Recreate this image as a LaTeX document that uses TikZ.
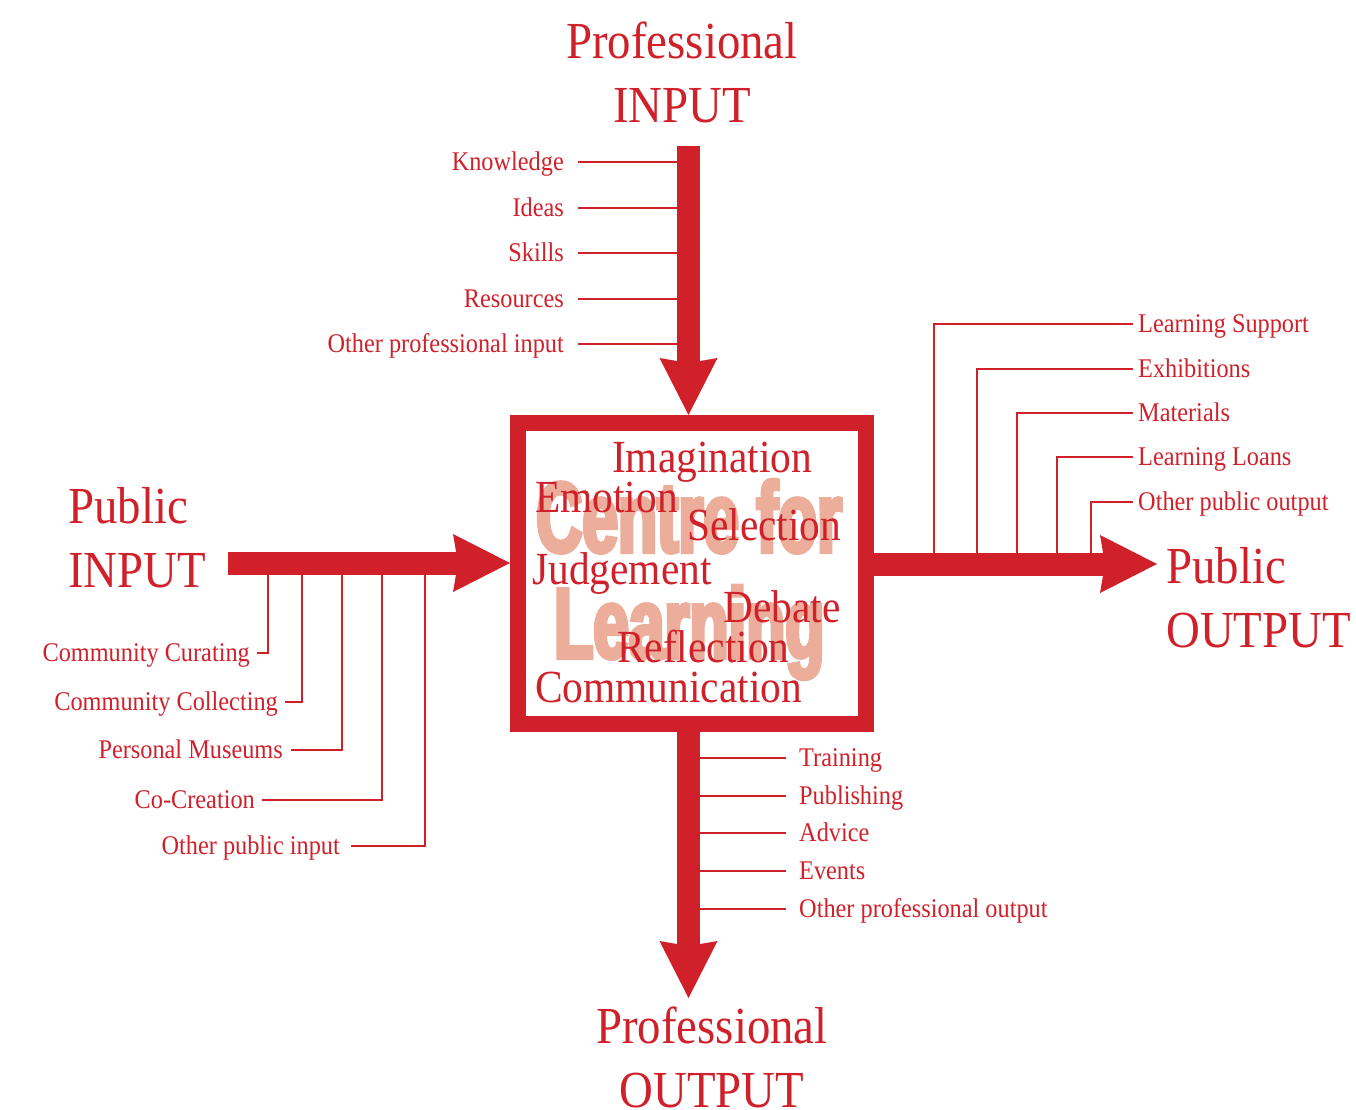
\documentclass[tikz,border=0pt]{standalone}
\usepackage{fontspec}
\setmainfont[FakeStretch=0.9]{Liberation Serif}
\newfontfamily\bannerfont[FakeStretch=0.64,FakeBold=4]{Liberation Sans Bold}
\usepackage{tikz}
\usetikzlibrary{arrows.meta,positioning}
\definecolor{cfred}{RGB}{208,32,42}
\definecolor{cfpink}{RGB}{236,174,154}

\begin{document}
\begin{tikzpicture}[x=1pt,y=-1pt,inner sep=0pt,
    bigarrow/.style={draw=cfred,line width=23pt,-{Stealth[length=57pt,width=58pt,inset=5pt,line width=0pt]}},
    branch/.style={draw=cfred,line width=2.6pt},
    heading/.style={text=cfred,font=\fontsize{52}{64}\selectfont},
    word/.style={text=cfred,font=\fontsize{46}{46}\selectfont,anchor=base west},
    item/.style={text=cfred,font=\fontsize{27}{27}\selectfont,text height=21pt,text depth=5pt},
    banner/.style={text=cfpink,font=\bannerfont\fontsize{100}{100}\selectfont,anchor=base west}]
    \useasboundingbox (0,0) rectangle (1356,1109);

    \node[draw=cfred,line width=16pt,minimum width=348pt,minimum height=301pt] (hub) at (692,573.5) {};

    \coordinate (pin)    at (688.5,146);
    \coordinate (pout)   at (688.5,998);
    \coordinate (pubin)  at (228,563);
    \coordinate (pubout) at (1157,564);

    % headings sit on the baseline of their last line
    \node[heading,align=center,anchor=base] (pin_lbl)    at (682,122)  {Professional\\INPUT};
    \node[heading,align=center,anchor=base] (pout_lbl)   at (712,1107) {Professional\\OUTPUT};
    \node[heading,align=left,anchor=base west] (pubin_lbl)  at (68,587)   {Public\\INPUT};
    \node[heading,align=left,anchor=base west] (pubout_lbl) at (1166,647) {Public\\OUTPUT};

    % professional input
    \node[item,anchor=east] (knowledge) at (564,162) {Knowledge};
    \node[item,anchor=east] (ideas)     at (564,208) {Ideas};
    \node[item,anchor=east] (skills)    at (564,253) {Skills};
    \node[item,anchor=east] (resources) at (564,299) {Resources};
    \node[item,anchor=east] (otherpin)  at (564,344) {Other professional input};
    \draw[branch] ([xshift=14pt]knowledge.east) -- (knowledge.east -| pin);
    \draw[branch] ([xshift=14pt]ideas.east)     -- (ideas.east -| pin);
    \draw[branch] ([xshift=14pt]skills.east)    -- (skills.east -| pin);
    \draw[branch] ([xshift=14pt]resources.east) -- (resources.east -| pin);
    \draw[branch] ([xshift=14pt]otherpin.east)  -- (otherpin.east -| pin);

    % public input
    \coordinate (pi1) at (268,563);
    \coordinate (pi2) at (302,563);
    \coordinate (pi3) at (342,563);
    \coordinate (pi4) at (382,563);
    \coordinate (pi5) at (425,563);
    \node[item,anchor=east] (curating)   at (250,653) {Community Curating};
    \node[item,anchor=east] (collecting) at (278,702) {Community Collecting};
    \node[item,anchor=east] (museums)    at (283,750) {Personal Museums};
    \node[item,anchor=east] (cocreation) at (255,800) {Co-Creation};
    \node[item,anchor=east] (otherpubin) at (340,846) {Other public input};
    \draw[branch] ([xshift=7pt]curating.east)    -| (pi1);
    \draw[branch] ([xshift=7pt]collecting.east)  -| (pi2);
    \draw[branch] ([xshift=8pt]museums.east)     -| (pi3);
    \draw[branch] ([xshift=7pt]cocreation.east)  -| (pi4);
    \draw[branch] ([xshift=11pt]otherpubin.east) -| (pi5);

    % public output
    \coordinate (po1) at (934,564);
    \coordinate (po2) at (977,564);
    \coordinate (po3) at (1017,564);
    \coordinate (po4) at (1057,564);
    \coordinate (po5) at (1091,564);
    \node[item,anchor=west] (support)     at (1138,324) {Learning Support};
    \node[item,anchor=west] (exhibitions) at (1138,369) {Exhibitions};
    \node[item,anchor=west] (materials)   at (1138,413) {Materials};
    \node[item,anchor=west] (loans)       at (1138,457) {Learning Loans};
    \node[item,anchor=west] (otherpubout) at (1138,502) {Other public output};
    \draw[branch] ([xshift=-5pt]support.west)     -| (po1);
    \draw[branch] ([xshift=-5pt]exhibitions.west) -| (po2);
    \draw[branch] ([xshift=-5pt]materials.west)   -| (po3);
    \draw[branch] ([xshift=-5pt]loans.west)       -| (po4);
    \draw[branch] ([xshift=-5pt]otherpubout.west) -| (po5);

    % professional output
    \node[item,anchor=west] (training)   at (799,758) {Training};
    \node[item,anchor=west] (publishing) at (799,796) {Publishing};
    \node[item,anchor=west] (advice)     at (799,833) {Advice};
    \node[item,anchor=west] (events)     at (799,871) {Events};
    \node[item,anchor=west] (otherpout)  at (799,909) {Other professional output};
    \draw[branch] ([xshift=-13pt]training.west)   -- (training.west -| pout);
    \draw[branch] ([xshift=-13pt]publishing.west) -- (publishing.west -| pout);
    \draw[branch] ([xshift=-13pt]advice.west)     -- (advice.west -| pout);
    \draw[branch] ([xshift=-13pt]events.west)     -- (events.west -| pout);
    \draw[branch] ([xshift=-13pt]otherpout.west)  -- (otherpout.west -| pout);

    \draw[bigarrow] (pin) -- (hub.north -| pin);
    \draw[bigarrow] (hub.south -| pout) -- (pout);
    \draw[bigarrow] (pubin) -- (hub.west |- pubin);
    \draw[bigarrow] (hub.east |- pubout) -- (pubout);

    \node[banner] (centre)   at (536,552) {Centre for};
    \node[banner] (learning) at (554,658) {Learning};

    \node[word] (imagination)   at (612,472) {Imagination};
    \node[word] (emotion)       at (535,512) {Emotion};
    \node[word] (selection)     at (687,540) {Selection};
    \node[word] (judgement)     at (532,584) {Judgement};
    \node[word] (debate)        at (723,622) {Debate};
    \node[word] (reflection)    at (617,662) {Reflection};
    \node[word] (communication) at (535,702) {Communication};
\end{tikzpicture}
\end{document}
